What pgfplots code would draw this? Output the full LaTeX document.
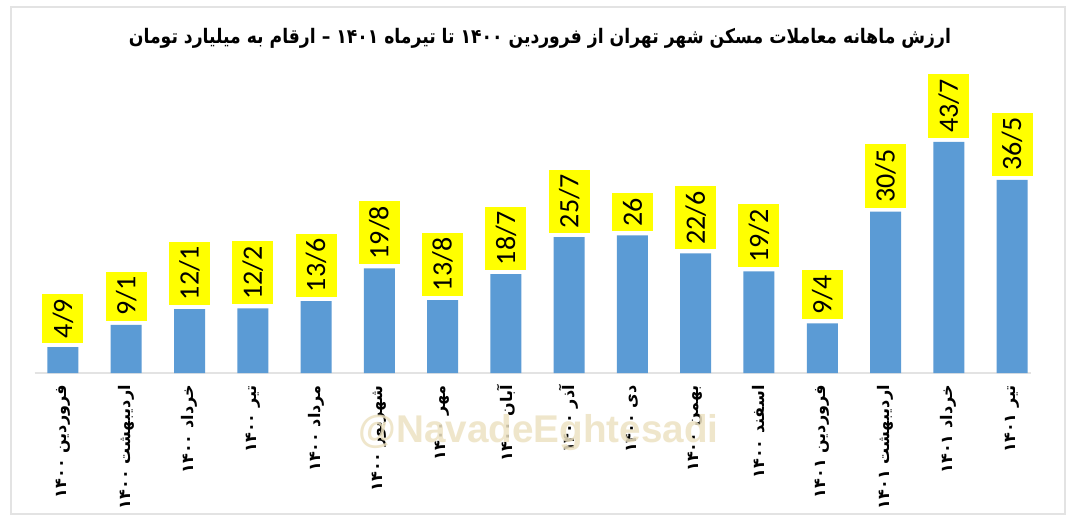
\documentclass[border=0pt]{standalone}
\usepackage{pgfplots}
\pgfplotsset{compat=1.18}
\usepackage{pgfplotstable}
\usepackage{graphicx}
\usepackage{fontspec}
\setmainfont{Carlito}
\newfontfamily\persian[Script=Arabic]{DejaVu Sans}
\newfontfamily\wmfont{Liberation Sans}
\TeXXeTstate=1

\definecolor{barblue}{HTML}{5B9BD5}
\definecolor{lblyellow}{HTML}{FFFF00}
\definecolor{frame}{HTML}{E3E3E3}
\definecolor{wmtext}{HTML}{EDE2C2}

% value, label as printed (Persian decimal slash)
\pgfplotstableread{
x val lbl
0  4.9  4/9
1  9.1  9/1
2  12.1 12/1
3  12.2 12/2
4  13.6 13/6
5  19.8 19/8
6  13.8 13/8
7  18.7 18/7
8  25.7 25/7
9  26.0 26
10 22.6 22/6
11 19.2 19/2
12 9.4  9/4
13 30.5 30/5
14 43.7 43/7
15 36.5 36/5
}\housing

\begin{document}
\begin{tikzpicture}
% page 1080x529 px, 1px = 0.75pt
\fill[white] (0pt,0pt) rectangle (810pt,396.75pt);
\draw[frame, line width=1.2pt] (8.25pt,11.25pt) rectangle (798.75pt,391.5pt);

\node at (405pt,368.25pt) {\scalebox{0.86}[1]{\fontsize{15}{15}\selectfont\persian\bfseries\beginR ارزش ماهانه معاملات مسکن شهر تهران از فروردین ۱۴۰۰ تا تیرماه ۱۴۰۱ – ارقام به میلیارد تومان\endR}};

\begin{axis}[
    at={(25.875pt,117pt)}, anchor=south west,
    scale only axis,
    width=747.4pt, height=178.5pt,
    xmin=-0.45, xmax=15.3,
    ymin=0, ymax=45,
    axis x line=bottom,
    axis y line=none,
    x axis line style={-, draw=frame, line width=1pt},
    xtick=data,
    major tick length=0pt,
    xticklabels={
        {\beginR فروردین ۱۴۰۰\endR},{\beginR اردیبهشت ۱۴۰۰\endR},
        {\beginR خرداد ۱۴۰۰\endR},{\beginR تیر ۱۴۰۰\endR},
        {\beginR مرداد ۱۴۰۰\endR},{\beginR شهریور ۱۴۰۰\endR},
        {\beginR مهر ۱۴۰۰\endR},{\beginR آبان ۱۴۰۰\endR},
        {\beginR آذر ۱۴۰۰\endR},{\beginR دی ۱۴۰۰\endR},
        {\beginR بهمن ۱۴۰۰\endR},{\beginR اسفند ۱۴۰۰\endR},
        {\beginR فروردین ۱۴۰۱\endR},{\beginR اردیبهشت ۱۴۰۱\endR},
        {\beginR خرداد ۱۴۰۱\endR},{\beginR تیر ۱۴۰۱\endR}},
    xticklabel style={rotate=90, anchor=east,
        font=\persian\bfseries\fontsize{12}{12}\selectfont,
        inner xsep=0pt, xshift=-9pt},
    ybar,
    bar width=23.25pt,
    clip=false,
    point meta=explicit symbolic,
    nodes near coords={\pgfplotspointmeta},
    every node near coord/.append style={
        rotate=90, anchor=west, fill=lblyellow, text=black,
        font=\fontsize{21}{21}\selectfont,
        inner xsep=3.75pt, minimum height=30.75pt, outer xsep=3pt},
]
\addplot[draw=none, fill=barblue] table[x=x, y=val, meta=lbl] {\housing};
\end{axis}

\node[text=wmtext, opacity=0.85, font=\wmfont\bfseries\fontsize{29}{29}\selectfont] at (404pt,72pt) {@NavadeEghtesadi};
\end{tikzpicture}
\end{document}
